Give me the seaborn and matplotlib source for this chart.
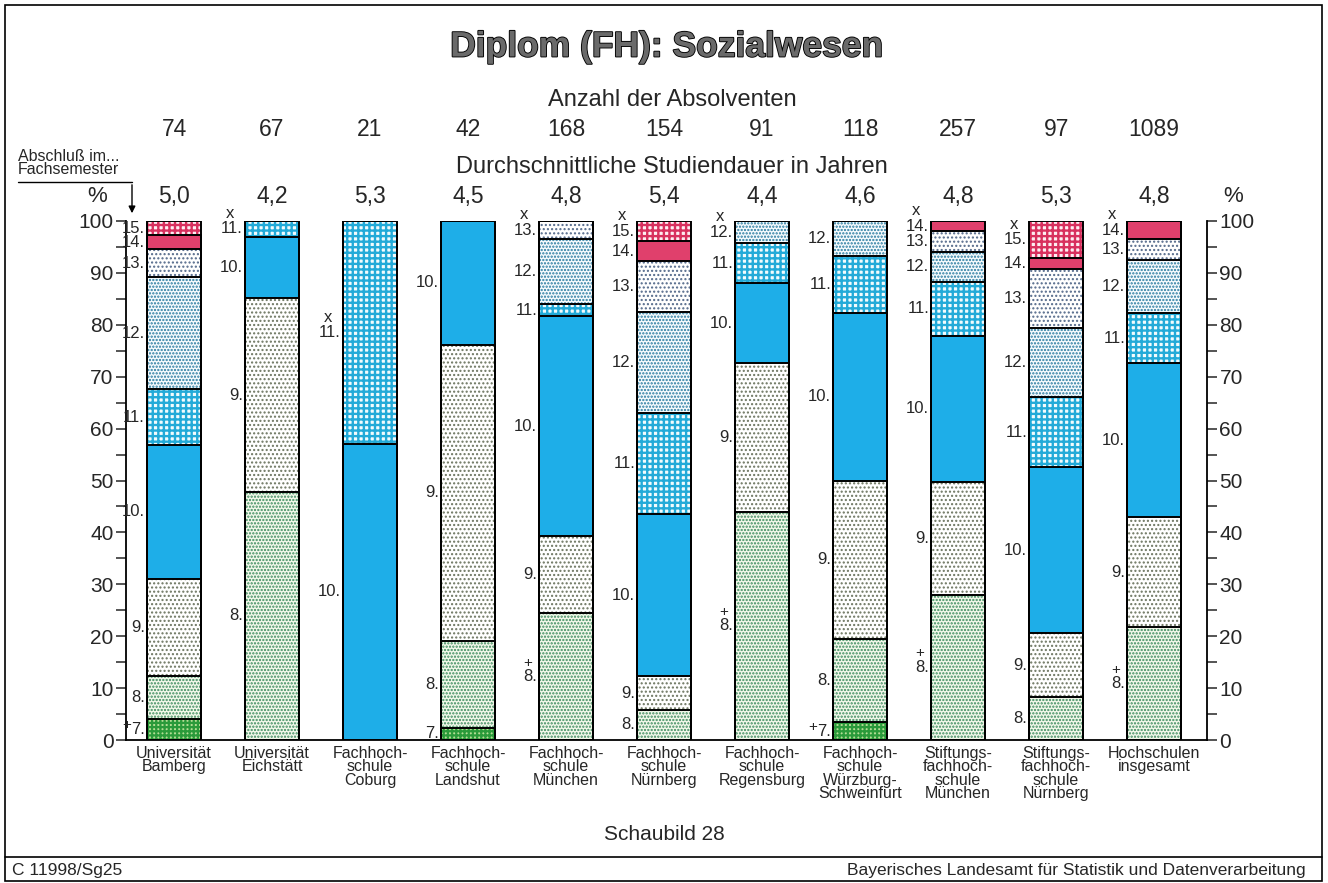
import numpy as np
import pandas as pd
import matplotlib
matplotlib.use('Agg')
import matplotlib.pyplot as plt
import matplotlib.patheffects as pe
from matplotlib.ticker import MultipleLocator
import seaborn as sns

# Hochschulen (x axis)
institutions = ['Universität\nBamberg', 'Universität\nEichstätt', 'Fachhoch-\nschule\nCoburg',
                'Fachhoch-\nschule\nLandshut', 'Fachhoch-\nschule\nMünchen', 'Fachhoch-\nschule\nNürnberg',
                'Fachhoch-\nschule\nRegensburg', 'Fachhoch-\nschule\nWürzburg-\nSchweinfurt',
                'Stiftungs-\nfachhoch-\nschule\nMünchen', 'Stiftungs-\nfachhoch-\nschule\nNürnberg',
                'Hochschulen\ninsgesamt']
absolventen = [74, 67, 21, 42, 168, 154, 91, 118, 257, 97, 1089]
studiendauer = ['5,0', '4,2', '5,3', '4,5', '4,8', '5,4', '4,4', '4,6', '4,8', '5,3', '4,8']

# share of graduates (%) by Fachsemester of the degree
semesters = [7, 8, 9, 10, 11, 12, 13, 14, 15]
sem7 = [4.1, 0, 0, 2.4, 0, 0, 0, 3.4, 0, 0, 0]
sem8 = [8.2, 47.8, 0, 16.7, 24.4, 5.8, 44.0, 16.1, 28.0, 8.2, 21.8]
sem9 = [18.8, 37.3, 0, 57.1, 14.9, 6.5, 28.6, 30.5, 21.8, 12.4, 21.1]
sem10 = [25.7, 11.9, 57.1, 23.8, 42.3, 31.2, 15.4, 32.2, 28.0, 32.0, 29.7]
sem11 = [10.8, 3.0, 42.9, 0, 2.4, 19.5, 7.7, 11.0, 10.5, 13.4, 9.6]
sem12 = [21.6, 0, 0, 0, 12.5, 19.5, 4.3, 6.8, 5.8, 13.4, 10.2]
sem13 = [5.4, 0, 0, 0, 3.5, 9.7, 0, 0, 3.9, 11.3, 4.1]
sem14 = [2.7, 0, 0, 0, 0, 3.9, 0, 0, 2.0, 2.1, 3.5]
sem15 = [2.7, 0, 0, 0, 0, 3.9, 0, 0, 0, 7.2, 0]

# "+" = incl. lower semesters, "x" = incl. higher semesters
plus_marks = {0: 7, 4: 8, 6: 8, 7: 7, 8: 8, 10: 8}
x_marks = {1: 11, 2: 11, 4: 13, 5: 15, 6: 12, 8: 14, 9: 15, 10: 14}

# fill style per semester: facecolor, hatch, hatch colour, hatch linewidth
styles = {
    7: ('#b4de94', '++++', '#2a9a3a', 1.6),
    8: ('#f3f8ea', '.....', '#3a8a5c', 1.1),
    9: ('#ffffff', '....', '#6c7560', 1.0),
    10: ('#1eaee8', '', '#1eaee8', 0.7),
    11: ('#f2fbfd', '+++', '#22aad8', 1.7),
    12: ('#f6fbfd', '.....', '#23789e', 1.1),
    13: ('#ffffff', '....', '#53698a', 1.0),
    14: ('#e0406c', '', '#e0406c', 0.7),
    15: ('#fdeef2', '+++', '#d8305e', 1.7),
}

shares = [sem7, sem8, sem9, sem10, sem11, sem12, sem13, sem14, sem15]
rows = []
for s, vals in zip(semesters, shares):
    for i, v in enumerate(vals):
        rows.append({'inst': institutions[i], 'idx': i, 'semester': s, 'pct': v})
df = pd.DataFrame(rows)
df['top'] = df.groupby('idx')['pct'].cumsum()
df['mid'] = df['top'] - df['pct'] / 2

sns.set_style('white')
plt.rcParams['font.family'] = ['Liberation Sans', 'DejaVu Sans']

W, H = 1328, 883
fig = plt.figure(figsize=(W / 100, H / 100), dpi=100)
ax = fig.add_axes([126 / W, 1 - 740 / H, (1207 - 126) / W, (740 - 221) / H])

bar_w = 0.55
# cumulative bars drawn from the top semester down, each covering the one before
for s in reversed(semesters):
    fc, hatch, hc, hlw = styles[s]
    sub = df[df['semester'] == s]
    with plt.rc_context({'hatch.linewidth': hlw}):
        sns.barplot(data=sub, x='inst', y='top', order=institutions, color=fc, saturation=1,
                    width=bar_w, hatch=hatch, edgecolor=hc, linewidth=0, errorbar=None, ax=ax)
for s in reversed(semesters):
    sub = df[(df['semester'] == s)]
    sns.barplot(data=sub, x='inst', y='top', order=institutions, fill=False, color='black',
                width=bar_w, linewidth=1.4, errorbar=None, ax=ax)

# segment labels left of each bar
for _, r in df[df['pct'] > 0].iterrows():
    i, s = r['idx'], r['semester']
    ax.annotate(f'{s}.', xy=(i - bar_w / 2, r['mid']), xytext=(-1.5, 0), textcoords='offset points',
                ha='right', va='center', fontsize=12)
    if plus_marks.get(i) == s:
        if s == 7:
            ax.annotate('+', xy=(i - bar_w / 2, r['mid']), xytext=(-15, 3), textcoords='offset points',
                        ha='center', va='center', fontsize=11)
        else:
            ax.annotate('+', xy=(i - bar_w / 2, r['mid']), xytext=(-8, 10), textcoords='offset points',
                        ha='center', va='center', fontsize=11)
    if x_marks.get(i) == s:
        off = -11 if s >= 10 else -8
        ax.annotate('x', xy=(i - bar_w / 2, r['mid']), xytext=(off, 11), textcoords='offset points',
                    ha='center', va='center', fontsize=12)

ax.set_xlim(-0.49, 10.54)
ax.set_ylim(0, 100)
ax.yaxis.set_major_locator(MultipleLocator(10))
ax.yaxis.set_minor_locator(MultipleLocator(5))
ax.tick_params(axis='y', which='both', left=True, right=True, labelleft=True, labelright=True,
               direction='out', length=7, width=1.1, labelsize=15, pad=2)
ax.tick_params(axis='x', length=0, labelsize=11.5, pad=4)
ax.set_xticks(range(len(institutions)))
ax.set_xticklabels(institutions, linespacing=0.88)
ax.set_xlabel('')
ax.set_ylabel('')
for side in ['left', 'right', 'bottom']:
    ax.spines[side].set_visible(True)
    ax.spines[side].set_linewidth(1.3)
    ax.spines[side].set_color('black')
ax.spines['top'].set_visible(False)

# numbers above the bars
for i in range(len(institutions)):
    ax.text(i, 1 + 91 / 519, str(absolventen[i]), transform=ax.get_xaxis_transform(),
            ha='center', va='center', fontsize=16.5)
    ax.text(i, 1 + 24 / 519, studiendauer[i], transform=ax.get_xaxis_transform(),
            ha='center', va='center', fontsize=16.5)
fig.text(97 / W, 1 - 197 / H, '%', ha='center', va='center', fontsize=16)
fig.text(1233 / W, 1 - 197 / H, '%', ha='center', va='center', fontsize=16)

fig.text(0.502, 1 - 47 / H, 'Diplom (FH): Sozialwesen', ha='center', va='center', fontsize=25.5,
         fontweight='bold', color='#6a6a6a',
         path_effects=[pe.withStroke(linewidth=1.3, foreground='black')])
fig.text(0.506, 1 - 100 / H, 'Anzahl der Absolventen', ha='center', va='center', fontsize=17)
fig.text(0.506, 1 - 167 / H, 'Durchschnittliche Studiendauer in Jahren', ha='center', va='center',
         fontsize=17)
fig.text(18 / W, 1 - 163 / H, 'Abschluß im...\nFachsemester', ha='left', va='center', fontsize=11.5,
         linespacing=0.9)

# arrow from the Fachsemester note down to the axis
y_line = 1 - 182 / H
fig.add_artist(plt.Line2D([18 / W, 132 / W], [y_line, y_line], transform=fig.transFigure,
                          color='black', lw=1))
ax.annotate('', xy=(132 / W, 1 - 216 / H), xytext=(132 / W, y_line), xycoords='figure fraction',
            arrowprops=dict(arrowstyle='-|>', color='black', lw=1, mutation_scale=10))

fig.text(0.5, 1 - 835 / H, 'Schaubild 28', ha='center', va='center', fontsize=15)

# frame and footer
fig.add_artist(plt.Rectangle((5 / W, 2 / H), 1 - 11 / W, 1 - 7 / H, transform=fig.transFigure,
                             fill=False, edgecolor='black', lw=1.2))
fig.add_artist(plt.Line2D([5 / W, 1 - 6 / W], [1 - 857 / H, 1 - 857 / H], transform=fig.transFigure,
                          color='black', lw=1.2))
fig.text(12 / W, 1 - 871 / H, 'C 11998/Sg25', ha='left', va='center', fontsize=12.5)
fig.text(1306 / W, 1 - 871 / H, 'Bayerisches Landesamt für Statistik und Datenverarbeitung',
         ha='right', va='center', fontsize=12.5)

fig.savefig('out.png', dpi=100)
